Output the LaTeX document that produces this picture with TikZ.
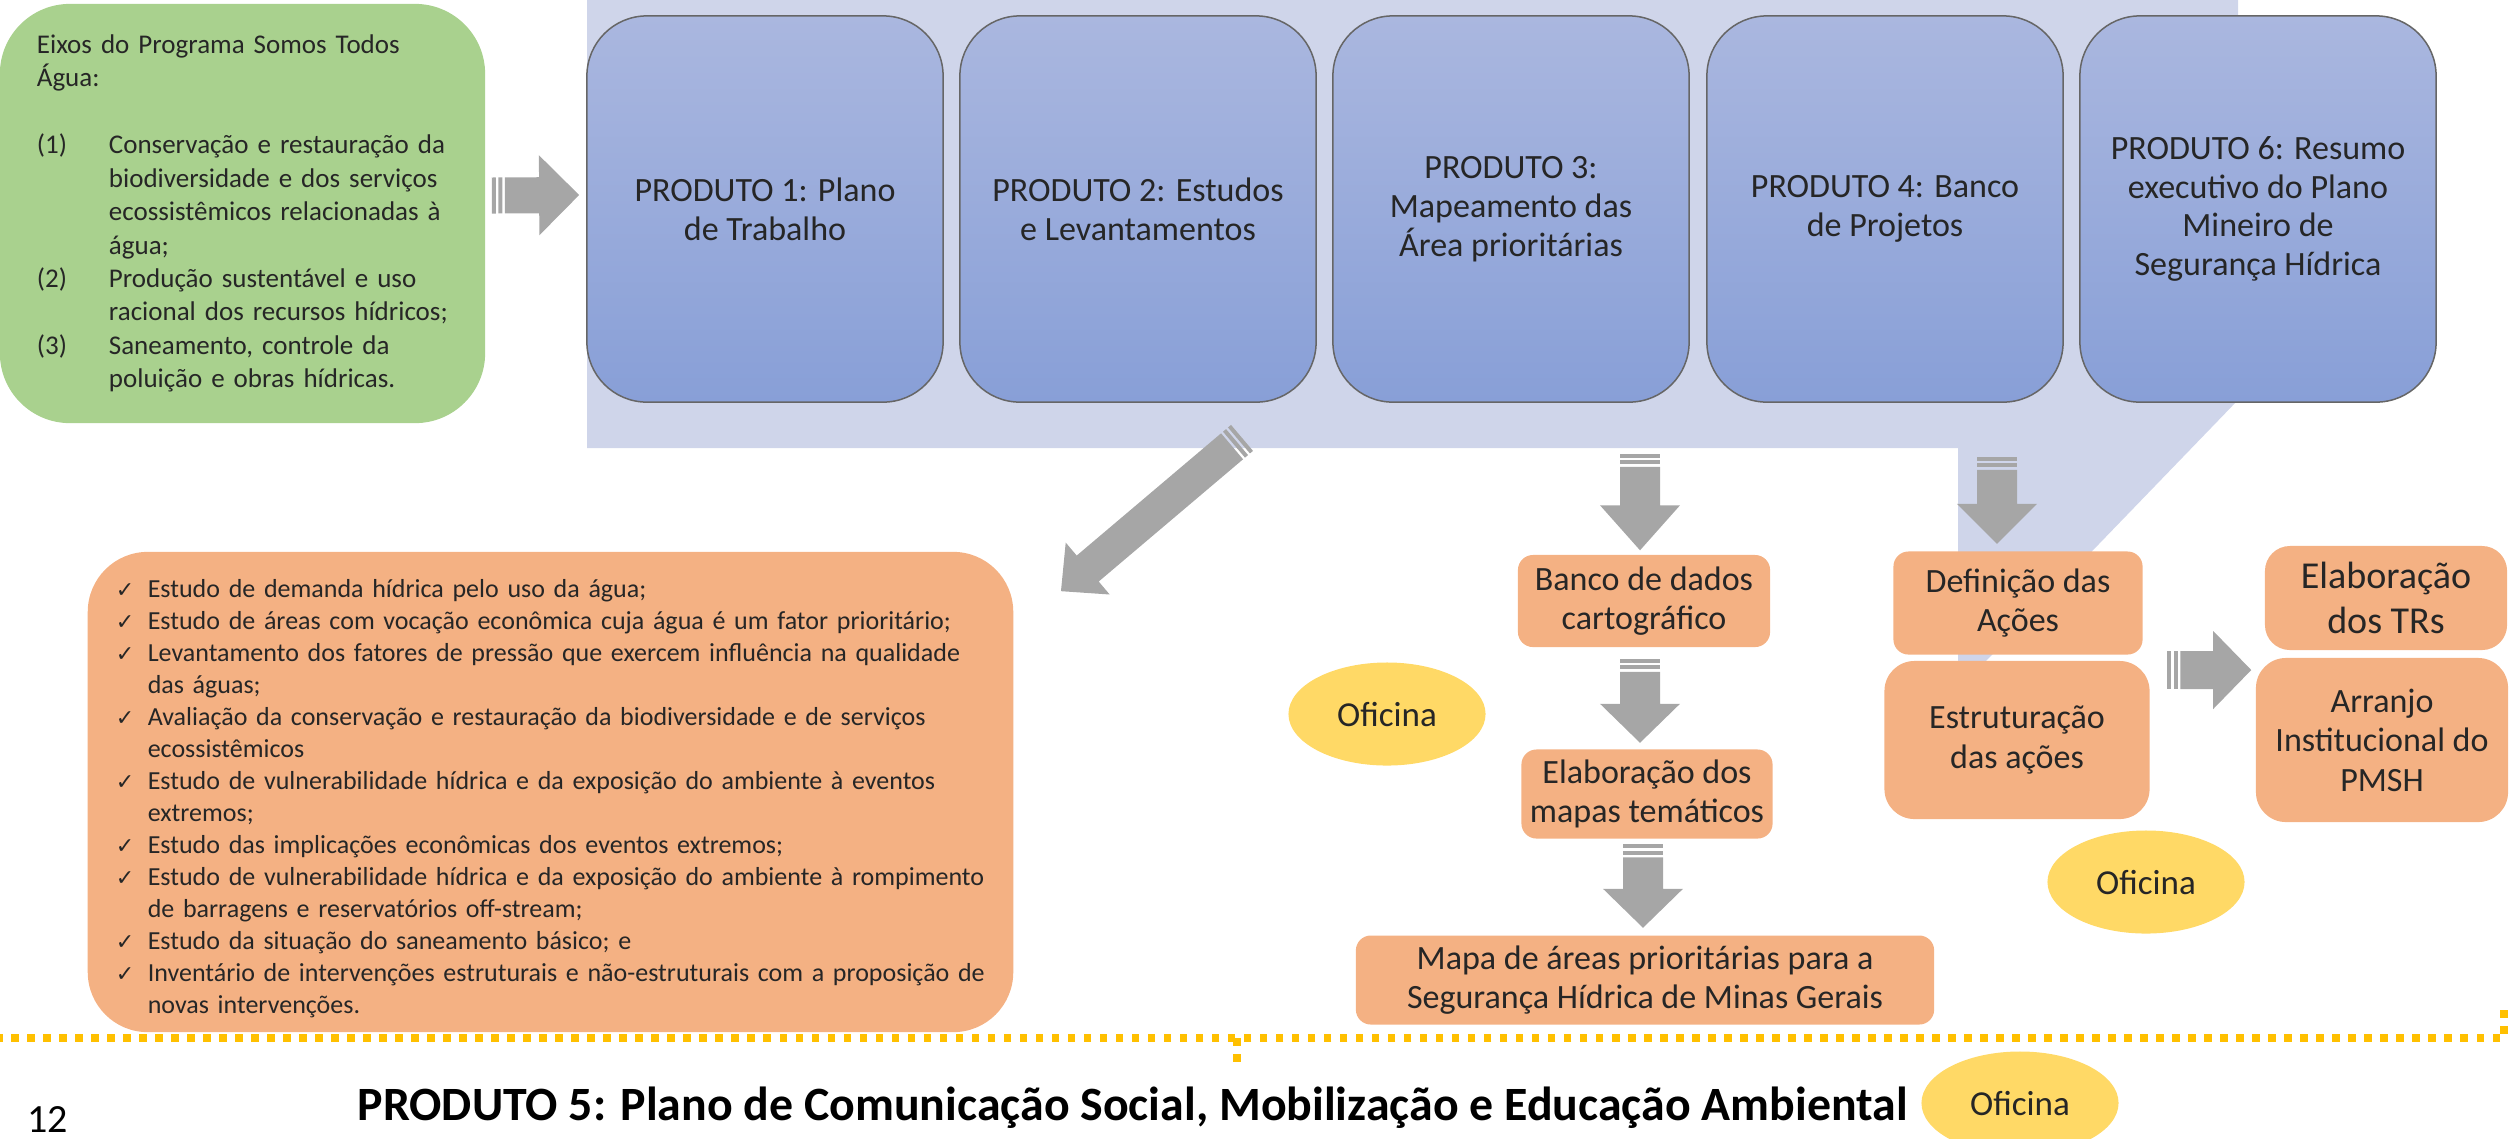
\documentclass[tikz,border=0pt]{standalone}
\usepackage{fontspec}
\setmainfont{Carlito}
\newfontfamily\checkfont{DejaVu Sans}
\usetikzlibrary{calc,shapes.geometric}

\definecolor{bgblue}{RGB}{207,213,234}
\definecolor{boxtop}{RGB}{170,183,223}
\definecolor{boxbot}{RGB}{136,159,215}
\definecolor{eixogreen}{RGB}{169,209,142}
\definecolor{prodorange}{RGB}{244,177,131}
\definecolor{oficyellow}{RGB}{255,217,102}
\definecolor{arrowgray}{RGB}{166,166,166}
\definecolor{dotyellow}{RGB}{255,192,0}

\newcommand{\itemhang}[2]{\par\noindent\hangindent=#1\hangafter=1\makebox[#1][l]{#2}\ignorespaces}
\newcommand{\chk}{{\checkfont\fontsize{2.2mm}{3mm}\selectfont ✓}}

\newcommand{\stripearrow}[5]{%
  \coordinate (sa-a) at (#1);
  \coordinate (sa-b) at (#2);
  \coordinate (sa-c) at ($(sa-b)!#5!(sa-a)$);
  \foreach \sfrom/\sto in {0mm/0.4mm,0.65mm/1.05mm}{
    \coordinate (sa-f) at ($(sa-a)!\sfrom!(sa-b)$);
    \coordinate (sa-t) at ($(sa-a)!\sto!(sa-b)$);
    \fill[arrowgray] ($(sa-f)!#3!90:(sa-b)$) -- ($(sa-t)!#3!90:(sa-b)$)
      -- ($(sa-t)!#3!-90:(sa-b)$) -- ($(sa-f)!#3!-90:(sa-b)$) -- cycle;
  }
  \coordinate (sa-d) at ($(sa-a)!1.3mm!(sa-b)$);
  \fill[arrowgray] ($(sa-d)!#3!90:(sa-b)$) -- ($(sa-c)!#3!90:(sa-b)$)
    -- ($(sa-c)!#4!90:(sa-b)$) -- (sa-b) -- ($(sa-c)!#4!-90:(sa-b)$)
    -- ($(sa-c)!#3!-90:(sa-b)$) -- ($(sa-d)!#3!-90:(sa-b)$) -- cycle;
}

\tikzset{
  produto/.style={rectangle,rounded corners=0.6cm,draw=black!60,line width=0.15mm,
    top color=boxtop,bottom color=boxbot,minimum width=3.56cm,minimum height=3.86cm,
    inner sep=0,align=center,text=black!85,font=\fontsize{3.4mm}{3.87mm}\selectfont},
  etapa/.style={rectangle,rounded corners=0.15cm,fill=prodorange,inner sep=0,
    align=center,text=black!85,font=\fontsize{3.4mm}{3.95mm}\selectfont},
  oficina/.style={ellipse,fill=oficyellow,minimum width=1.97cm,minimum height=1.03cm,
    inner sep=0,text=black!85,font=\fontsize{3.5mm}{4mm}\selectfont},
  dotline/.style={dotyellow,line width=0.8mm,dash pattern=on 0.75mm off 0.85mm}
}

\begin{document}
\begin{tikzpicture}[x=0.01cm,y=-0.01cm]
  \useasboundingbox (0,0) rectangle (2509,1138);
  \fill[bgblue] (587,0) -- (2238,0) -- (2238,400) -- (1985,662) -- (1958,662)
    -- (1958,448) -- (587,448) -- cycle;

  \node[fill=eixogreen,rounded corners=0.7cm,minimum width=4.85cm,minimum height=4.19cm,
    text width=4.11cm,inner sep=0,text=black!85,font=\fontsize{2.7mm}{3.34mm}\selectfont]
    (verde) at (242.5,213.5) {Eixos do Programa Somos Todos\\ Água:\par\vspace{3.34mm}
    \itemhang{0.72cm}{(1)}Conservação e restauração da\linebreak biodiversidade e dos serviços\linebreak
    ecossistêmicos relacionadas à\linebreak água;
    \itemhang{0.72cm}{(2)}Produção sustentável e uso\linebreak racional dos recursos hídricos;
    \itemhang{0.72cm}{(3)}Saneamento, controle da\linebreak poluição e obras hídricas.\par};

  \node[produto] (p1) at (765,209) {PRODUTO 1: Plano\\de Trabalho};
  \node[produto] (p2) at (1138,209) {PRODUTO 2: Estudos\\e Levantamentos};
  \node[produto] (p3) at (1511,209) {PRODUTO 3:\\Mapeamento das\\Área prioritárias};
  \node[produto] (p4) at (1885,209) {PRODUTO 4: Banco\\de Projetos};
  \node[produto] (p6) at (2258,209) {PRODUTO 6: Resumo\\executivo do Plano\\Mineiro de\\Segurança Hídrica};

  \node[fill=prodorange,rounded corners=0.6cm,minimum width=9.25cm,minimum height=4.8cm,
    text width=8.69cm,inner sep=0,text=black!85,font=\fontsize{2.6mm}{3.2mm}\selectfont]
    (lista) at (550.5,792) {%
    \itemhang{0.32cm}{\chk}Estudo de demanda hídrica pelo uso da água;
    \itemhang{0.32cm}{\chk}Estudo de áreas com vocação econômica cuja água é um fator prioritário;
    \itemhang{0.32cm}{\chk}Levantamento dos fatores de pressão que exercem influência na qualidade\linebreak das águas;
    \itemhang{0.32cm}{\chk}Avaliação da conservação e restauração da biodiversidade e de serviços\linebreak ecossistêmicos
    \itemhang{0.32cm}{\chk}Estudo de vulnerabilidade hídrica e da exposição do ambiente à eventos\linebreak extremos;
    \itemhang{0.32cm}{\chk}Estudo das implicações econômicas dos eventos extremos;
    \itemhang{0.32cm}{\chk}Estudo de vulnerabilidade hídrica e da exposição do ambiente à rompimento\linebreak de barragens e reservatórios off-stream;
    \itemhang{0.32cm}{\chk}Estudo da situação do saneamento básico; e
    \itemhang{0.32cm}{\chk}Inventário de intervenções estruturais e não-estruturais com a proposição de\linebreak novas intervenções.\par};

  \node[etapa,minimum width=2.52cm,minimum height=0.92cm] (banco) at (1644,601) {Banco de dados\\cartográfico};
  \node[etapa,minimum width=2.51cm,minimum height=0.89cm] (elab) at (1647,794) {Elaboração dos\\mapas temáticos};
  \node[etapa,minimum width=5.78cm,minimum height=0.89cm] (mapa) at (1645,980) {Mapa de áreas prioritárias para a\\Segurança Hídrica de Minas Gerais};
  \node[etapa,minimum width=2.49cm,minimum height=1.03cm] (defin) at (2018,603) {Definição das\\Ações};
  \node[etapa,rounded corners=0.3cm,minimum width=2.65cm,minimum height=1.58cm] (estrut) at (2017,740) {Estruturação\\das ações};
  \node[etapa,rounded corners=0.25cm,minimum width=2.42cm,minimum height=1.04cm,
    font=\fontsize{3.8mm}{4.5mm}\selectfont] (trs) at (2386,598) {Elaboração\\dos TRs};
  \node[etapa,rounded corners=0.3cm,minimum width=2.52cm,minimum height=1.64cm] (arranjo) at (2382,740) {Arranjo\\Institucional do\\PMSH};

  \stripearrow{$(verde.east)+(6,-18)$}{$(p1.west)+(-7,-14)$}{1.8mm}{4mm}{4mm}
  \stripearrow{$(p2.south)+(104,35)$}{$(lista.north east)+(47,40)$}{1.7mm}{3.4mm}{3.5mm}
  \stripearrow{$(banco.north |- p3.south)+(-4,51)$}{$(banco.north)+(-4,-4)$}{2mm}{4mm}{4.5mm}
  \stripearrow{$(banco.south)+(-4,11)$}{$(elab.north)+(-7,-6)$}{2mm}{4mm}{3.9mm}
  \stripearrow{$(elab.south)+(-4,5)$}{$(mapa.north)+(-2,-7)$}{2mm}{4mm}{3.9mm}
  \stripearrow{$(defin.north |- p4.south)+(-21,54)$}{$(defin.north)+(-21,-7)$}{2mm}{4mm}{4mm}
  \stripearrow{$(estrut.east)+(17,-70)$}{$(arranjo.west)+(-4,-70)$}{1.9mm}{3.9mm}{3.8mm}

  \node[oficina] (of1) at (1387,714) {Oficina};
  \node[oficina] (of2) at (2146,882) {Oficina};
  \node[oficina] (of3) at (2020,1103) {Oficina};

  \draw[dotline] (2504,1010) -- (2504,1038) -- (0,1038);
  \draw[dotline] (1237,1038) -- (1237,1062);

  \node[anchor=base west,inner sep=0,font=\fontsize{4mm}{4.8mm}\selectfont] (pagina) at (27,1132) {12};
  \node[anchor=base west,inner sep=0,font=\bfseries\fontsize{4.78mm}{5.6mm}\selectfont] (produto5) at (357,1120)
    {PRODUTO 5: Plano de Comunicação Social, Mobilização e Educação Ambiental};
\end{tikzpicture}
\end{document}
